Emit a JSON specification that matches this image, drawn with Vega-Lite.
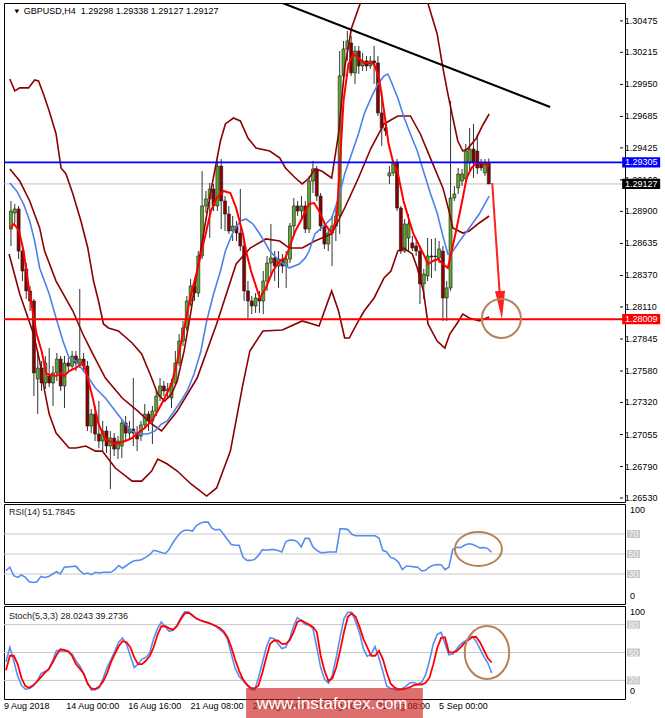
{
"$schema": "https://vega.github.io/schema/vega-lite/v6.json",
"padding": {"left": 2, "top": 2, "right": 0, "bottom": 0},
"background": "#ffffff",
"spacing": 2,
"bounds": "flush",
"resolve": {"scale": {"x": "independent", "y": "independent"}},
"config": {"view": {"stroke": "#000000", "strokeWidth": 1}, "font": "Liberation Sans"},
"datasets": {
"candles": [
{"i":0,"o":1.28754,"h":1.28986,"l":1.28614,"c":1.28903},{"i":1,"o":1.28887,"h":1.28961,"l":1.28804,"c":1.2892},{"i":2,"o":1.2892,"h":1.28945,"l":1.28506,"c":1.28572},{"i":3,"o":1.28572,"h":1.28614,"l":1.28324,"c":1.28407},{"i":4,"o":1.28424,"h":1.28473,"l":1.28176,"c":1.28242},{"i":5,"o":1.28242,"h":1.28283,"l":1.28076,"c":1.28159},{"i":6,"o":1.28159,"h":1.28176,"l":1.27373,"c":1.27564},{"i":7,"o":1.27514,"h":1.27746,"l":1.27224,"c":1.27605},{"i":8,"o":1.27605,"h":1.27663,"l":1.27415,"c":1.27481},{"i":9,"o":1.27481,"h":1.27704,"l":1.27431,"c":1.27646},
{"i":10,"o":1.27539,"h":1.2777,"l":1.27448,"c":1.27481},{"i":11,"o":1.27481,"h":1.27621,"l":1.27291,"c":1.27564},{"i":12,"o":1.27564,"h":1.27729,"l":1.27497,"c":1.27679},{"i":13,"o":1.27679,"h":1.27704,"l":1.27415,"c":1.27456},{"i":14,"o":1.27456,"h":1.27704,"l":1.27274,"c":1.27646},{"i":15,"o":1.27646,"h":1.27688,"l":1.27564,"c":1.27621},{"i":16,"o":1.27621,"h":1.27746,"l":1.27597,"c":1.27704},{"i":17,"o":1.27704,"h":1.27746,"l":1.2758,"c":1.27646},{"i":18,"o":1.27646,"h":1.28258,"l":1.27605,"c":1.27679},{"i":19,"o":1.27679,"h":1.27729,"l":1.2758,"c":1.27621},
{"i":20,"o":1.27621,"h":1.27663,"l":1.27084,"c":1.27125},{"i":21,"o":1.27125,"h":1.27266,"l":1.27067,"c":1.27224},{"i":22,"o":1.27224,"h":1.27291,"l":1.27001,"c":1.27059},{"i":23,"o":1.27059,"h":1.27332,"l":1.26943,"c":1.27001},{"i":24,"o":1.27001,"h":1.27167,"l":1.26918,"c":1.27084},{"i":25,"o":1.27084,"h":1.27125,"l":1.26902,"c":1.2696},{"i":26,"o":1.2696,"h":1.27084,"l":1.26604,"c":1.27026},{"i":27,"o":1.27026,"h":1.27067,"l":1.26877,"c":1.26935},{"i":28,"o":1.26935,"h":1.27043,"l":1.26852,"c":1.27001},{"i":29,"o":1.2696,"h":1.27183,"l":1.26861,"c":1.2715},
{"i":30,"o":1.2715,"h":1.27208,"l":1.27001,"c":1.27067},{"i":31,"o":1.27067,"h":1.27167,"l":1.27018,"c":1.271},{"i":32,"o":1.271,"h":1.27522,"l":1.2696,"c":1.27067},{"i":33,"o":1.27067,"h":1.27125,"l":1.26918,"c":1.27018},{"i":34,"o":1.27043,"h":1.27167,"l":1.27001,"c":1.27134},{"i":35,"o":1.27134,"h":1.27307,"l":1.271,"c":1.27224},{"i":36,"o":1.27224,"h":1.27249,"l":1.27084,"c":1.27167},{"i":37,"o":1.27167,"h":1.27291,"l":1.26976,"c":1.27249},{"i":38,"o":1.27249,"h":1.27415,"l":1.27208,"c":1.27373},{"i":39,"o":1.27373,"h":1.27522,"l":1.27332,"c":1.27456},
{"i":40,"o":1.27456,"h":1.27497,"l":1.27373,"c":1.27415},{"i":41,"o":1.27415,"h":1.27481,"l":1.27349,"c":1.27431},{"i":42,"o":1.27357,"h":1.27514,"l":1.27274,"c":1.27481},{"i":43,"o":1.27481,"h":1.27746,"l":1.27456,"c":1.27646},{"i":44,"o":1.27646,"h":1.27886,"l":1.27621,"c":1.27828},{"i":45,"o":1.27828,"h":1.27994,"l":1.27787,"c":1.27936},{"i":46,"o":1.27936,"h":1.282,"l":1.27911,"c":1.28159},{"i":47,"o":1.28159,"h":1.28341,"l":1.28118,"c":1.28283},{"i":48,"o":1.28283,"h":1.28324,"l":1.28159,"c":1.28225},{"i":49,"o":1.28225,"h":1.28572,"l":1.28192,"c":1.28531},
{"i":50,"o":1.28531,"h":1.29234,"l":1.28506,"c":1.28945},{"i":51,"o":1.28945,"h":1.29069,"l":1.28887,"c":1.29003},{"i":52,"o":1.29003,"h":1.29135,"l":1.2868,"c":1.29085},{"i":53,"o":1.29085,"h":1.29127,"l":1.28903,"c":1.28945},{"i":54,"o":1.28945,"h":1.29317,"l":1.28903,"c":1.29275},{"i":55,"o":1.29275,"h":1.29333,"l":1.28754,"c":1.28986},{"i":56,"o":1.28986,"h":1.29027,"l":1.28738,"c":1.28878},{"i":57,"o":1.28878,"h":1.28945,"l":1.28713,"c":1.28738},{"i":58,"o":1.28738,"h":1.28862,"l":1.28655,"c":1.28779},{"i":59,"o":1.28779,"h":1.28821,"l":1.28655,"c":1.28721},
{"i":60,"o":1.28721,"h":1.29085,"l":1.28572,"c":1.28614},{"i":61,"o":1.28614,"h":1.28655,"l":1.28159,"c":1.28242},{"i":62,"o":1.28242,"h":1.28324,"l":1.28018,"c":1.28159},{"i":63,"o":1.28159,"h":1.282,"l":1.28051,"c":1.28118},{"i":64,"o":1.28118,"h":1.28225,"l":1.2806,"c":1.28184},{"i":65,"o":1.28184,"h":1.28242,"l":1.2806,"c":1.28159},{"i":66,"o":1.28159,"h":1.28407,"l":1.28051,"c":1.28324},{"i":67,"o":1.28324,"h":1.28531,"l":1.28242,"c":1.28473},{"i":68,"o":1.28473,"h":1.28796,"l":1.28366,"c":1.28515},{"i":69,"o":1.28515,"h":1.28572,"l":1.28324,"c":1.28448},
{"i":70,"o":1.28448,"h":1.28572,"l":1.28267,"c":1.28506},{"i":71,"o":1.28506,"h":1.28548,"l":1.2839,"c":1.28448},{"i":72,"o":1.28448,"h":1.28572,"l":1.28267,"c":1.28506},{"i":73,"o":1.28506,"h":1.28804,"l":1.28473,"c":1.28779},{"i":74,"o":1.28779,"h":1.29011,"l":1.28697,"c":1.28945},{"i":75,"o":1.28945,"h":1.28986,"l":1.28862,"c":1.28903},{"i":76,"o":1.28903,"h":1.29027,"l":1.28837,"c":1.28945},{"i":77,"o":1.28945,"h":1.28986,"l":1.28721,"c":1.28754},{"i":78,"o":1.28754,"h":1.29193,"l":1.28721,"c":1.29151},{"i":79,"o":1.29151,"h":1.29317,"l":1.29052,"c":1.29251},
{"i":80,"o":1.29251,"h":1.29275,"l":1.28986,"c":1.29027},{"i":81,"o":1.29027,"h":1.29052,"l":1.28738,"c":1.28779},{"i":82,"o":1.28779,"h":1.28821,"l":1.28589,"c":1.2863},{"i":83,"o":1.2863,"h":1.28754,"l":1.28572,"c":1.28721},{"i":84,"o":1.28721,"h":1.28862,"l":1.28448,"c":1.28779},{"i":85,"o":1.28779,"h":1.28945,"l":1.28655,"c":1.28862},{"i":86,"o":1.28862,"h":1.30226,"l":1.28713,"c":1.3002},{"i":87,"o":1.3002,"h":1.30309,"l":1.29978,"c":1.30243},{"i":88,"o":1.30243,"h":1.30392,"l":1.30144,"c":1.30309},{"i":89,"o":1.30293,"h":1.30351,"l":1.3002,"c":1.30045},
{"i":90,"o":1.30045,"h":1.30268,"l":1.29954,"c":1.30226},{"i":91,"o":1.30226,"h":1.30268,"l":1.30036,"c":1.30102},{"i":92,"o":1.30102,"h":1.3021,"l":1.30061,"c":1.30144},{"i":93,"o":1.30144,"h":1.30185,"l":1.30061,"c":1.30102},{"i":94,"o":1.30102,"h":1.30185,"l":1.30078,"c":1.30144},{"i":95,"o":1.30144,"h":1.30268,"l":1.29954,"c":1.30127},{"i":96,"o":1.30127,"h":1.30185,"l":1.29689,"c":1.29714},{"i":97,"o":1.29714,"h":1.29896,"l":1.29441,"c":1.2959},{"i":98,"o":1.2959,"h":1.29631,"l":1.29524,"c":1.29565},{"i":99,"o":1.29193,"h":1.29275,"l":1.29127,"c":1.29218},
{"i":100,"o":1.29218,"h":1.29317,"l":1.29193,"c":1.293},{"i":101,"o":1.293,"h":1.29333,"l":1.28903,"c":1.28928},{"i":102,"o":1.28928,"h":1.28945,"l":1.28548,"c":1.28572},{"i":103,"o":1.28572,"h":1.28837,"l":1.28556,"c":1.28796},{"i":104,"o":1.2868,"h":1.28878,"l":1.28572,"c":1.28796},{"i":105,"o":1.28639,"h":1.28697,"l":1.28572,"c":1.28597},{"i":106,"o":1.28614,"h":1.28655,"l":1.28531,"c":1.28572},{"i":107,"o":1.28572,"h":1.28614,"l":1.28134,"c":1.283},{"i":108,"o":1.283,"h":1.28424,"l":1.28176,"c":1.28382},{"i":109,"o":1.28366,"h":1.2868,"l":1.28324,"c":1.28531},
{"i":110,"o":1.28531,"h":1.28672,"l":1.28349,"c":1.28523},{"i":111,"o":1.28531,"h":1.2868,"l":1.28407,"c":1.28525},{"i":112,"o":1.28515,"h":1.28655,"l":1.28473,"c":1.28589},{"i":113,"o":1.28572,"h":1.28614,"l":1.27994,"c":1.28184},{"i":114,"o":1.28184,"h":1.28324,"l":1.27994,"c":1.28267},{"i":115,"o":1.28267,"h":1.29813,"l":1.28242,"c":1.29011},{"i":116,"o":1.29011,"h":1.2911,"l":1.28986,"c":1.29044},{"i":117,"o":1.29094,"h":1.29259,"l":1.29044,"c":1.29209},{"i":118,"o":1.29151,"h":1.29251,"l":1.2911,"c":1.29209},{"i":119,"o":1.29168,"h":1.29457,"l":1.29151,"c":1.29399},
{"i":120,"o":1.293,"h":1.2959,"l":1.29234,"c":1.29416},{"i":121,"o":1.29416,"h":1.29623,"l":1.29176,"c":1.293},{"i":122,"o":1.29399,"h":1.2954,"l":1.29209,"c":1.29259},{"i":123,"o":1.29292,"h":1.29333,"l":1.29234,"c":1.29259},{"i":124,"o":1.29218,"h":1.29333,"l":1.29193,"c":1.293},{"i":125,"o":1.29298,"h":1.29338,"l":1.29127,"c":1.29127}
],
"bb": [
{"s":"u","i":-0.3,"p":1.29995},{"s":"u","i":1.0,"p":1.29896},{"s":"u","i":2.3,"p":1.29921},{"s":"u","i":4.6,"p":1.29921},{"s":"u","i":6.2,"p":1.29987},{"s":"u","i":7.2,"p":1.29978},{"s":"u","i":8.5,"p":1.29871},{"s":"u","i":10.0,"p":1.2973},{"s":"u","i":11.8,"p":1.2954},{"s":"u","i":13.1,"p":1.29259},{"s":"u","i":14.4,"p":1.29209},{"s":"u","i":16.2,"p":1.29044},{"s":"u","i":18.3,"p":1.28821},{"s":"u","i":20.1,"p":1.28597},{"s":"u","i":21.6,"p":1.28324},{"s":"u","i":22.9,"p":1.28159},{"s":"u","i":24.2,"p":1.27969},{"s":"u","i":25.5,"p":1.27936},{"s":"u","i":28.1,"p":1.27911},{"s":"u","i":31.7,"p":1.27812},{"s":"u","i":34.2,"p":1.27721},{"s":"u","i":36.8,"p":1.27522},{"s":"u","i":38.4,"p":1.2739},{"s":"u","i":40.2,"p":1.27332},{"s":"u","i":42.0,"p":1.2739},{"s":"u","i":43.5,"p":1.27497},{"s":"u","i":45.3,"p":1.27746},{"s":"u","i":47.1,"p":1.28076},{"s":"u","i":48.7,"p":1.28407},{"s":"u","i":50.5,"p":1.28738},{"s":"u","i":52.3,"p":1.29069},{"s":"u","i":53.8,"p":1.29317},{"s":"u","i":54.8,"p":1.29482},{"s":"u","i":56.1,"p":1.29623},{"s":"u","i":58.2,"p":1.29672},{"s":"u","i":60.0,"p":1.29648},{"s":"u","i":62.0,"p":1.29507},{"s":"u","i":64.1,"p":1.29424},{"s":"u","i":67.7,"p":1.29399},{"s":"u","i":70.3,"p":1.29342},{"s":"u","i":71.8,"p":1.29259},{"s":"u","i":74.4,"p":1.29176},{"s":"u","i":76.2,"p":1.29127},{"s":"u","i":78.0,"p":1.29176},{"s":"u","i":79.5,"p":1.29251},{"s":"u","i":81.3,"p":1.29234},{"s":"u","i":83.9,"p":1.29176},{"s":"u","i":85.7,"p":1.2954},{"s":"u","i":87.3,"p":1.30086},{"s":"u","i":89.1,"p":1.30417},{"s":"u","i":91.6,"p":1.3064},{"s":"u","i":95.5,"p":1.3093},{"s":"u","i":99.4,"p":1.30971},{"s":"u","i":103.2,"p":1.30888},{"s":"u","i":107.1,"p":1.30723},{"s":"u","i":108.9,"p":1.3064},{"s":"u","i":111.5,"p":1.30367},{"s":"u","i":113.0,"p":1.30086},{"s":"u","i":114.3,"p":1.29871},{"s":"u","i":115.6,"p":1.29672},{"s":"u","i":116.9,"p":1.29482},{"s":"u","i":118.2,"p":1.29399},{"s":"u","i":119.4,"p":1.29416},{"s":"u","i":121.8,"p":1.29507},{"s":"u","i":123.3,"p":1.29606},{"s":"u","i":125.1,"p":1.29705},
{"s":"m","i":-0.3,"p":1.29251},{"s":"m","i":2.3,"p":1.29151},{"s":"m","i":4.9,"p":1.28986},{"s":"m","i":7.5,"p":1.28763},{"s":"m","i":8.8,"p":1.28572},{"s":"m","i":11.8,"p":1.28324},{"s":"m","i":16.2,"p":1.28076},{"s":"m","i":18.8,"p":1.27886},{"s":"m","i":21.4,"p":1.27721},{"s":"m","i":24.7,"p":1.27522},{"s":"m","i":29.1,"p":1.27357},{"s":"m","i":33.2,"p":1.27249},{"s":"m","i":36.8,"p":1.27142},{"s":"m","i":39.4,"p":1.27084},{"s":"m","i":43.5,"p":1.27249},{"s":"m","i":48.7,"p":1.27522},{"s":"m","i":53.8,"p":1.27969},{"s":"m","i":58.9,"p":1.28465},{"s":"m","i":62.6,"p":1.28597},{"s":"m","i":66.7,"p":1.28672},{"s":"m","i":70.3,"p":1.28655},{"s":"m","i":72.8,"p":1.28597},{"s":"m","i":76.2,"p":1.28597},{"s":"m","i":79.5,"p":1.28655},{"s":"m","i":83.9,"p":1.28713},{"s":"m","i":87.3,"p":1.28928},{"s":"m","i":90.9,"p":1.29176},{"s":"m","i":94.2,"p":1.29424},{"s":"m","i":97.6,"p":1.29623},{"s":"m","i":101.2,"p":1.29689},{"s":"m","i":104.5,"p":1.29689},{"s":"m","i":107.1,"p":1.2954},{"s":"m","i":109.7,"p":1.29342},{"s":"m","i":113.0,"p":1.29094},{"s":"m","i":114.8,"p":1.28878},{"s":"m","i":115.6,"p":1.28763},{"s":"m","i":118.2,"p":1.28721},{"s":"m","i":119.9,"p":1.28738},{"s":"m","i":122.5,"p":1.28804},{"s":"m","i":125.1,"p":1.28862},
{"s":"l","i":-0.5,"p":1.28548},{"s":"l","i":2.3,"p":1.28217},{"s":"l","i":5.9,"p":1.27886},{"s":"l","i":7.5,"p":1.27663},{"s":"l","i":8.8,"p":1.27415},{"s":"l","i":10.0,"p":1.27224},{"s":"l","i":11.8,"p":1.27067},{"s":"l","i":15.2,"p":1.26943},{"s":"l","i":17.0,"p":1.26943},{"s":"l","i":19.6,"p":1.2696},{"s":"l","i":22.1,"p":1.26918},{"s":"l","i":23.9,"p":1.26918},{"s":"l","i":27.3,"p":1.26778},{"s":"l","i":31.7,"p":1.2667},{"s":"l","i":34.2,"p":1.2667},{"s":"l","i":36.8,"p":1.26753},{"s":"l","i":38.4,"p":1.26852},{"s":"l","i":40.9,"p":1.26811},{"s":"l","i":43.5,"p":1.26753},{"s":"l","i":47.1,"p":1.26646},{"s":"l","i":51.2,"p":1.26546},{"s":"l","i":53.8,"p":1.26613},{"s":"l","i":57.4,"p":1.26918},{"s":"l","i":60.7,"p":1.27473},{"s":"l","i":62.5,"p":1.27746},{"s":"l","i":65.9,"p":1.27911},{"s":"l","i":71.0,"p":1.27919},{"s":"l","i":76.2,"p":1.27994},{"s":"l","i":80.6,"p":1.27953},{"s":"l","i":83.9,"p":1.28242},{"s":"l","i":85.7,"p":1.28076},{"s":"l","i":87.3,"p":1.27853},{"s":"l","i":88.5,"p":1.27853},{"s":"l","i":90.9,"p":1.27994},{"s":"l","i":92.4,"p":1.28076},{"s":"l","i":95.0,"p":1.28184},{"s":"l","i":97.6,"p":1.28349},{"s":"l","i":99.4,"p":1.28407},{"s":"l","i":101.2,"p":1.28572},{"s":"l","i":102.7,"p":1.28597},{"s":"l","i":105.0,"p":1.28548},{"s":"l","i":106.3,"p":1.28432},{"s":"l","i":107.9,"p":1.28242},{"s":"l","i":109.1,"p":1.27969},{"s":"l","i":111.5,"p":1.27828},{"s":"l","i":113.5,"p":1.2777},{"s":"l","i":114.8,"p":1.27886},{"s":"l","i":116.6,"p":1.27969},{"s":"l","i":118.2,"p":1.28051},{"s":"l","i":119.9,"p":1.28018},{"s":"l","i":122.5,"p":1.27994},{"s":"l","i":125.1,"p":1.28027}
],
"fast": [
{"i":-0.3,"p":1.28763},{"i":0.8,"p":1.28796},{"i":2.1,"p":1.28738},{"i":3.3,"p":1.28572},{"i":4.9,"p":1.28217},{"i":6.7,"p":1.27886},{"i":8.0,"p":1.27746},{"i":9.3,"p":1.27555},{"i":11.8,"p":1.27539},{"i":13.1,"p":1.27564},{"i":13.9,"p":1.27539},{"i":15.2,"p":1.2758},{"i":17.0,"p":1.27605},{"i":18.8,"p":1.27646},{"i":19.6,"p":1.2758},{"i":21.4,"p":1.27357},{"i":22.9,"p":1.27142},{"i":24.7,"p":1.27018},{"i":27.3,"p":1.26976},{"i":29.9,"p":1.27001},{"i":31.7,"p":1.27026},{"i":33.2,"p":1.27067},{"i":35.0,"p":1.27109},{"i":36.8,"p":1.27167},{"i":38.4,"p":1.27249},{"i":40.2,"p":1.27357},{"i":42.0,"p":1.27473},{"i":43.5,"p":1.27663},{"i":45.3,"p":1.27936},{"i":47.1,"p":1.28217},{"i":48.7,"p":1.28407},{"i":50.5,"p":1.28655},{"i":52.3,"p":1.28903},{"i":53.8,"p":1.29011},{"i":55.6,"p":1.29069},{"i":57.4,"p":1.29052},{"i":58.9,"p":1.28928},{"i":60.7,"p":1.28713},{"i":61.5,"p":1.28572},{"i":62.8,"p":1.28407},{"i":65.1,"p":1.28184},{"i":66.7,"p":1.28267},{"i":68.5,"p":1.28407},{"i":70.3,"p":1.2849},{"i":71.8,"p":1.28515},{"i":72.8,"p":1.28597},{"i":74.4,"p":1.28738},{"i":76.2,"p":1.28845},{"i":78.0,"p":1.28961},{"i":79.3,"p":1.28969},{"i":80.6,"p":1.28903},{"i":82.1,"p":1.28796},{"i":83.9,"p":1.28721},{"i":85.2,"p":1.28845},{"i":86.0,"p":1.29259},{"i":87.0,"p":1.29813},{"i":88.3,"p":1.30119},{"i":89.6,"p":1.30202},{"i":90.9,"p":1.30169},{"i":92.4,"p":1.30127},{"i":93.7,"p":1.30127},{"i":95.0,"p":1.30119},{"i":96.3,"p":1.30003},{"i":97.6,"p":1.2973},{"i":98.8,"p":1.29457},{"i":99.9,"p":1.29317},{"i":101.2,"p":1.29218},{"i":102.7,"p":1.28986},{"i":104.0,"p":1.28845},{"i":105.3,"p":1.28713},{"i":106.6,"p":1.2863},{"i":107.9,"p":1.28548},{"i":109.1,"p":1.28465},{"i":110.4,"p":1.2849},{"i":111.7,"p":1.28506},{"i":113.0,"p":1.28465},{"i":114.3,"p":1.28432},{"i":115.3,"p":1.28572},{"i":116.6,"p":1.28763},{"i":118.2,"p":1.29011},{"i":119.2,"p":1.29176},{"i":120.5,"p":1.29259},{"i":121.8,"p":1.293},{"i":123.3,"p":1.293},{"i":125.1,"p":1.29275}
],
"slow": [
{"i":-0.3,"p":1.29135},{"i":1.5,"p":1.29069},{"i":3.3,"p":1.28961},{"i":4.9,"p":1.28821},{"i":6.2,"p":1.28655},{"i":7.5,"p":1.28432},{"i":10.0,"p":1.28217},{"i":11.8,"p":1.28018},{"i":13.6,"p":1.27828},{"i":15.2,"p":1.27688},{"i":17.0,"p":1.27663},{"i":19.6,"p":1.27555},{"i":22.1,"p":1.2744},{"i":24.7,"p":1.27357},{"i":27.3,"p":1.27249},{"i":29.9,"p":1.27142},{"i":31.7,"p":1.27084},{"i":33.2,"p":1.27059},{"i":35.8,"p":1.27059},{"i":37.6,"p":1.27084},{"i":39.4,"p":1.27142},{"i":40.9,"p":1.27167},{"i":42.7,"p":1.27249},{"i":44.5,"p":1.27332},{"i":46.1,"p":1.27415},{"i":47.9,"p":1.27555},{"i":49.7,"p":1.27746},{"i":51.2,"p":1.27994},{"i":53.0,"p":1.28217},{"i":54.8,"p":1.28407},{"i":56.1,"p":1.28572},{"i":58.2,"p":1.28738},{"i":60.0,"p":1.28821},{"i":61.5,"p":1.28837},{"i":63.3,"p":1.28796},{"i":65.1,"p":1.28713},{"i":66.7,"p":1.2863},{"i":67.7,"p":1.28572},{"i":70.3,"p":1.2849},{"i":72.8,"p":1.28432},{"i":75.4,"p":1.28465},{"i":77.0,"p":1.28515},{"i":78.0,"p":1.28572},{"i":79.5,"p":1.28713},{"i":81.3,"p":1.28763},{"i":83.9,"p":1.28845},{"i":85.7,"p":1.29011},{"i":87.3,"p":1.29209},{"i":89.1,"p":1.29375},{"i":90.9,"p":1.2954},{"i":92.4,"p":1.29705},{"i":94.2,"p":1.29838},{"i":96.0,"p":1.29954},{"i":97.6,"p":1.3002},{"i":98.6,"p":1.30036},{"i":99.4,"p":1.29978},{"i":101.2,"p":1.29838},{"i":102.7,"p":1.29689},{"i":104.5,"p":1.2954},{"i":106.3,"p":1.29399},{"i":107.9,"p":1.29234},{"i":109.7,"p":1.29052},{"i":111.5,"p":1.28887},{"i":113.0,"p":1.28697},{"i":114.3,"p":1.28548},{"i":115.6,"p":1.28572},{"i":117.4,"p":1.28655},{"i":119.9,"p":1.28763},{"i":122.5,"p":1.28878},{"i":125.1,"p":1.29027}
],
"osc": [
{"i":0,"r":33.4,"k":40,"d":30.9},{"i":1,"r":36.8,"k":55.6,"d":46.5},{"i":2,"r":28.3,"k":41,"d":46.5},{"i":3,"r":26.6,"k":24.7,"d":37.5},{"i":4,"r":29,"k":14.5,"d":22.2},{"i":5,"r":26.6,"k":10.5,"d":13.8},{"i":6,"r":22.2,"k":11.3,"d":12},{"i":7,"r":21.5,"k":13.8,"d":14.9},{"i":8,"r":22.2,"k":19.3,"d":18.6},{"i":9,"r":27.6,"k":27.3,"d":23.6},
{"i":10,"r":26.6,"k":29.5,"d":28.4},{"i":11,"r":27.6,"k":32,"d":32},{"i":12,"r":30,"k":41,"d":39.3},{"i":13,"r":32.4,"k":52,"d":47.3},{"i":14,"r":30,"k":52,"d":53.5},{"i":15,"r":36.8,"k":51.3,"d":52.7},{"i":16,"r":37.1,"k":51.3,"d":51.3},{"i":17,"r":37.5,"k":48.4,"d":46.5},{"i":18,"r":37.8,"k":41,"d":37.5},{"i":19,"r":33.4,"k":35.6,"d":32.7},
{"i":20,"r":30,"k":27.3,"d":27.3},{"i":21,"r":31,"k":17.5,"d":16.4},{"i":22,"r":29.3,"k":9.5,"d":11.3},{"i":23,"r":31.7,"k":10.2,"d":10.5},{"i":24,"r":31,"k":12,"d":13.5},{"i":25,"r":31.7,"k":22.2,"d":18.9},{"i":26,"r":31.7,"k":33.8,"d":27.6},{"i":27,"r":31.7,"k":42.2,"d":39.3},{"i":28,"r":34.4,"k":51.3,"d":48.4},{"i":29,"r":38.5,"k":61.1,"d":56.7},
{"i":30,"r":35.8,"k":65.5,"d":62.2},{"i":31,"r":38.5,"k":59.3,"d":61.1},{"i":32,"r":41.2,"k":46.5,"d":55.6},{"i":33,"r":43.2,"k":33.8,"d":44.7},{"i":34,"r":43.6,"k":37.5,"d":37.5},{"i":35,"r":44.6,"k":42.9,"d":37.5},{"i":36,"r":46.9,"k":44.7,"d":41.1},{"i":37,"r":49.3,"k":49.5,"d":46.2},{"i":38,"r":53.7,"k":64.7,"d":55.6},{"i":39,"r":52.7,"k":75.6,"d":69.1},
{"i":40,"r":51.4,"k":82.9,"d":78.2},{"i":41,"r":50.3,"k":77.5,"d":78.2},{"i":42,"r":54.7,"k":72.7,"d":76},{"i":43,"r":61.5,"k":73.8,"d":74.5},{"i":44,"r":67,"k":79.3,"d":78.2},{"i":45,"r":71.7,"k":87.6,"d":85.8},{"i":46,"r":73.7,"k":93.8,"d":92},{"i":47,"r":73.7,"k":93.5,"d":92.7},{"i":48,"r":73,"k":89.1,"d":90.2},{"i":49,"r":78.5,"k":86.5,"d":86.5},
{"i":50,"r":80.8,"k":84.7,"d":84.7},{"i":51,"r":81.9,"k":83.3,"d":83.3},{"i":52,"r":81.9,"k":81.8,"d":82.2},{"i":53,"r":75.8,"k":80.4,"d":80.4},{"i":54,"r":74.1,"k":78.2,"d":78.5},{"i":55,"r":74.7,"k":74.5,"d":76.4},{"i":56,"r":69.7,"k":71.3,"d":72.7},{"i":57,"r":64.6,"k":64.7,"d":66.5},{"i":58,"r":59.5,"k":48.4,"d":55.6},{"i":59,"r":58.8,"k":32.7,"d":42.2},
{"i":60,"r":58.8,"k":24.4,"d":30.2},{"i":61,"r":46.9,"k":20,"d":21.1},{"i":62,"r":43.6,"k":14.9,"d":15.6},{"i":63,"r":43.6,"k":10.2,"d":12},{"i":64,"r":44.6,"k":9.8,"d":11.3},{"i":65,"r":48.6,"k":22.9,"d":14.5},{"i":66,"r":54.4,"k":39.3,"d":28.4},{"i":67,"r":53.7,"k":55.6,"d":44.7},{"i":68,"r":54.4,"k":65.8,"d":59.3},{"i":69,"r":54.4,"k":64.7,"d":62.9},
{"i":70,"r":53.4,"k":59.3,"d":62.9},{"i":71,"r":52,"k":54.2,"d":59.3},{"i":72,"r":62.2,"k":55.6,"d":59.3},{"i":73,"r":63.9,"k":64.7,"d":62.9},{"i":74,"r":63.9,"k":77.8,"d":71.6},{"i":75,"r":62.2,"k":87.6,"d":82.9},{"i":76,"r":57.1,"k":84,"d":84.7},{"i":77,"r":65.6,"k":80.4,"d":82.2},{"i":78,"r":65.6,"k":79.3,"d":80},{"i":79,"r":57.1,"k":75.6,"d":77.5},
{"i":80,"r":53.7,"k":55.6,"d":72},{"i":81,"r":51.4,"k":33.8,"d":46.5},{"i":82,"r":51.4,"k":21.1,"d":30.2},{"i":83,"r":52,"k":17.1,"d":19.3},{"i":84,"r":52,"k":25.8,"d":22.2},{"i":85,"r":52,"k":44.7,"d":33.8},{"i":86,"r":75.1,"k":66.5,"d":52},{"i":87,"r":75.1,"k":86.5,"d":72},{"i":88,"r":74.4,"k":93.1,"d":88.4},{"i":89,"r":69.7,"k":93.1,"d":92},
{"i":90,"r":68.3,"k":82.9,"d":88.4},{"i":91,"r":68.3,"k":71.3,"d":77.5},{"i":92,"r":68.3,"k":53.8,"d":64.7},{"i":93,"r":68.3,"k":45.8,"d":55.6},{"i":94,"r":68.3,"k":48.4,"d":46.5},{"i":95,"r":68.3,"k":56.4,"d":46.5},{"i":96,"r":66,"k":44,"d":52},{"i":97,"r":53.7,"k":29.5,"d":42.9},{"i":98,"r":52,"k":13.8,"d":28.4},{"i":99,"r":46.6,"k":11.3,"d":16.4},
{"i":100,"r":45.3,"k":10.2,"d":12.4},{"i":101,"r":41.9,"k":9.5,"d":10.5},{"i":102,"r":34.4,"k":11.3,"d":10.2},{"i":103,"r":37.8,"k":13.8,"d":11.3},{"i":104,"r":37.8,"k":17.5,"d":12.7},{"i":105,"r":37.1,"k":17.8,"d":14.9},{"i":106,"r":36.8,"k":16,"d":15.6},{"i":107,"r":33,"k":18.2,"d":15.6},{"i":108,"r":33.7,"k":25.8,"d":17.5},{"i":109,"r":37.1,"k":41.1,"d":22.9},
{"i":110,"r":38.8,"k":59.3,"d":37.5},{"i":111,"r":39.5,"k":69.5,"d":54.9},{"i":112,"r":39.2,"k":71.6,"d":65.8},{"i":113,"r":34.4,"k":59.3,"d":66.5},{"i":114,"r":36.8,"k":47.6,"d":50.2},{"i":115,"r":54.7,"k":48.4,"d":50.2},{"i":116,"r":56.8,"k":53.8,"d":51.3},{"i":117,"r":56.4,"k":58.9,"d":55.6},{"i":118,"r":58.8,"k":61.8,"d":60},{"i":119,"r":60.2,"k":64.4,"d":63.3},
{"i":120,"r":59.8,"k":67.3,"d":66.5},{"i":121,"r":58.1,"k":62.2,"d":66.9},{"i":122,"r":56.1,"k":53.8,"d":61.1},{"i":123,"r":56.4,"k":45.5,"d":52.7},{"i":124,"r":55.4,"k":38.9,"d":44},{"i":125,"r":51.7845,"k":28.0243,"d":39.2736}
],
"levels": [{"v":1.2653},{"v":1.2679},{"v":1.27055},{"v":1.2732},{"v":1.2758},{"v":1.27845},{"v":1.2811},{"v":1.2837},{"v":1.28635},{"v":1.289},{"v":1.2916},{"v":1.29425},{"v":1.29685},{"v":1.2995},{"v":1.30215},{"v":1.30475}],
"dates": [{"i":0,"t":"9 Aug 2018"},{"i":16,"t":"14 Aug 00:00"},{"i":32,"t":"16 Aug 16:00"},{"i":48,"t":"21 Aug 08:00"},{"i":64,"t":"24 Aug 00:00"},{"i":80,"t":"28 Aug 16:00"},{"i":96,"t":"31 Aug 08:00"},{"i":112,"t":"5 Sep 00:00"}]
},
"vconcat": [
{
"width": 621, "height": 499,
"layer": [
{"data": {"values": [{}]}, "mark": {"type": "rule", "color": "#c0c0c0", "strokeWidth": 1},
 "encoding": {"y": {"datum": 1.29127, "type": "quantitative", "scale": {"domain": [1.26497, 1.30623], "nice": false, "zero": false}, "axis": null}}},
{"data": {"name": "candles"}, "mark": {"type": "rule", "color": "#333333", "strokeWidth": 1, "clip": true},
 "encoding": {
  "x": {"field": "i", "type": "quantitative", "scale": {"domain": [-0.515, 159.33], "nice": false, "zero": false},
   "axis": {"values": [8,16,24,32,40,48,56,64,72,80,88,96,104,112,120,128,136,144,152], "grid": true, "gridColor": "#c4c4c4", "gridDash": [3,3], "labels": false, "ticks": false, "domain": false, "title": null, "zindex": 0}},
  "y": {"field": "l", "type": "quantitative", "scale": {"domain": [1.26497, 1.30623], "nice": false, "zero": false},
   "axis": {"orient": "right", "values": [1.2653,1.2679,1.27055,1.2732,1.2758,1.27845,1.2811,1.2837,1.28635,1.289,1.2916,1.29425,1.29685,1.2995,1.30215,1.30475], "grid": true, "gridColor": "#c4c4c4", "gridDash": [3,3], "labels": false, "ticks": false, "domain": false, "title": null, "zindex": 0}},
  "y2": {"field": "h"}}},
{"data": {"name": "candles"}, "mark": {"type": "bar", "size": 3, "stroke": "#1a1a1a", "strokeWidth": 0.6, "clip": true},
 "encoding": {
  "x": {"field": "i", "type": "quantitative", "scale": {"domain": [-0.515, 159.33], "nice": false, "zero": false}, "axis": null},
  "y": {"field": "o", "type": "quantitative", "scale": {"domain": [1.26497, 1.30623], "nice": false, "zero": false}, "axis": null},
  "y2": {"field": "c"},
  "color": {"condition": {"test": "datum.c >= datum.o", "value": "#5ea82c"}, "value": "#8b0000"}}},
{"data": {"name": "bb"}, "mark": {"type": "line", "color": "#8b0000", "strokeWidth": 1.6, "clip": true},
 "encoding": {
  "x": {"field": "i", "type": "quantitative", "scale": {"domain": [-0.515, 159.33], "nice": false, "zero": false}, "axis": null},
  "y": {"field": "p", "type": "quantitative", "scale": {"domain": [1.26497, 1.30623], "nice": false, "zero": false}, "axis": null},
  "detail": {"field": "s", "type": "nominal"}}},
{"data": {"name": "slow"}, "mark": {"type": "line", "color": "#4f80e8", "strokeWidth": 1.6, "clip": true},
 "encoding": {
  "x": {"field": "i", "type": "quantitative", "scale": {"domain": [-0.515, 159.33], "nice": false, "zero": false}, "axis": null},
  "y": {"field": "p", "type": "quantitative", "scale": {"domain": [1.26497, 1.30623], "nice": false, "zero": false}, "axis": null}}},
{"data": {"name": "fast"}, "mark": {"type": "line", "color": "#ff0000", "strokeWidth": 2, "clip": true},
 "encoding": {
  "x": {"field": "i", "type": "quantitative", "scale": {"domain": [-0.515, 159.33], "nice": false, "zero": false}, "axis": null},
  "y": {"field": "p", "type": "quantitative", "scale": {"domain": [1.26497, 1.30623], "nice": false, "zero": false}, "axis": null}}},
{"data": {"values": [{}]}, "mark": {"type": "rule", "color": "#0000ff", "strokeWidth": 1.8},
 "encoding": {"y": {"datum": 1.29305, "type": "quantitative", "scale": {"domain": [1.26497, 1.30623], "nice": false, "zero": false}, "axis": null}}},
{"data": {"values": [{}]}, "mark": {"type": "rule", "color": "#ff0000", "strokeWidth": 2},
 "encoding": {"y": {"datum": 1.28009, "type": "quantitative", "scale": {"domain": [1.26497, 1.30623], "nice": false, "zero": false}, "axis": null}}},
{"data": {"values": [{}]}, "mark": {"type": "rule", "color": "#000000", "strokeWidth": 2, "clip": true},
 "encoding": {
  "x": {"datum": 71.04, "type": "quantitative", "scale": {"domain": [-0.515, 159.33], "nice": false, "zero": false}, "axis": null},
  "y": {"datum": 1.30623, "type": "quantitative", "scale": {"domain": [1.26497, 1.30623], "nice": false, "zero": false}, "axis": null},
  "x2": {"datum": 141.05}, "y2": {"datum": 1.29763}}},
{"data": {"values": [{}]}, "mark": {"type": "rule", "color": "#ff2020", "strokeWidth": 2},
 "encoding": {
  "x": {"datum": 125.9, "type": "quantitative", "scale": {"domain": [-0.515, 159.33], "nice": false, "zero": false}, "axis": null},
  "y": {"datum": 1.29135, "type": "quantitative", "scale": {"domain": [1.26497, 1.30623], "nice": false, "zero": false}, "axis": null},
  "x2": {"datum": 127.9}, "y2": {"datum": 1.282}}},
{"data": {"values": [{}]}, "mark": {"type": "point", "shape": "M-0.36,-1L0.36,-1L0,1Z", "filled": true, "color": "#ff2020", "opacity": 1, "size": 784, "angle": -4},
 "encoding": {
  "x": {"datum": 128.2, "type": "quantitative", "scale": {"domain": [-0.515, 159.33], "nice": false, "zero": false}, "axis": null},
  "y": {"datum": 1.28126, "type": "quantitative", "scale": {"domain": [1.26497, 1.30623], "nice": false, "zero": false}, "axis": null}}},
{"data": {"values": [{}]}, "mark": {"type": "point", "shape": "circle", "filled": false, "color": "#b5835a", "strokeWidth": 2, "opacity": 1, "size": 1521},
 "encoding": {
  "x": {"datum": 128.3, "type": "quantitative", "scale": {"domain": [-0.515, 159.33], "nice": false, "zero": false}, "axis": null},
  "y": {"datum": 1.28014, "type": "quantitative", "scale": {"domain": [1.26497, 1.30623], "nice": false, "zero": false}, "axis": null}}},
{"data": {"values": [{}]}, "mark": {"type": "point", "shape": "triangle-down", "filled": true, "color": "#000000", "opacity": 1, "size": 22},
 "encoding": {
  "x": {"datum": 1.54, "type": "quantitative", "scale": {"domain": [-0.515, 159.33], "nice": false, "zero": false}, "axis": null},
  "y": {"datum": 1.30553, "type": "quantitative", "scale": {"domain": [1.26497, 1.30623], "nice": false, "zero": false}, "axis": null}}},
{"data": {"values": [{}]}, "mark": {"type": "text", "text": "GBPUSD,H4\u00a0 1.29298 1.29338 1.29127 1.29127", "align": "left", "baseline": "middle", "font": "Liberation Sans", "fontSize": 9, "color": "#000000"},
 "encoding": {
  "x": {"datum": 3.35, "type": "quantitative", "scale": {"domain": [-0.515, 159.33], "nice": false, "zero": false}, "axis": null},
  "y": {"datum": 1.30557, "type": "quantitative", "scale": {"domain": [1.26497, 1.30623], "nice": false, "zero": false}, "axis": null}}},
{"data": {"name": "levels"}, "mark": {"type": "rule", "color": "#000000", "strokeWidth": 1, "clip": false},
 "encoding": {
  "x": {"datum": 159.33, "type": "quantitative", "scale": {"domain": [-0.515, 159.33], "nice": false, "zero": false}, "axis": null},
  "x2": {"datum": 160.1},
  "y": {"field": "v", "type": "quantitative", "scale": {"domain": [1.26497, 1.30623], "nice": false, "zero": false}, "axis": null}}},
{"data": {"name": "levels"}, "mark": {"type": "text", "align": "left", "baseline": "middle", "font": "Liberation Sans", "fontSize": 9, "color": "#000000", "clip": false},
 "encoding": {
  "x": {"datum": 160.6, "type": "quantitative", "scale": {"domain": [-0.515, 159.33], "nice": false, "zero": false}, "axis": null},
  "y": {"field": "v", "type": "quantitative", "scale": {"domain": [1.26497, 1.30623], "nice": false, "zero": false}, "axis": null},
  "text": {"field": "v", "type": "quantitative", "format": ".5f"}}},
{"data": {"values": [{"p": 1.29305, "k": "b"}, {"p": 1.29127, "k": "k"}, {"p": 1.28009, "k": "r"}]},
 "mark": {"type": "point", "shape": "M-1,-0.27L1,-0.27L1,0.27L-1,0.27Z", "filled": true, "opacity": 1, "size": 1444, "clip": false},
 "encoding": {
  "x": {"datum": 164.87, "type": "quantitative", "scale": {"domain": [-0.515, 159.33], "nice": false, "zero": false}, "axis": null},
  "y": {"field": "p", "type": "quantitative", "scale": {"domain": [1.26497, 1.30623], "nice": false, "zero": false}, "axis": null},
  "color": {"field": "k", "type": "nominal", "scale": {"domain": ["b", "k", "r"], "range": ["#0000ff", "#000000", "#ff0000"]}, "legend": null}}},
{"data": {"values": [{"p": 1.29305}, {"p": 1.29127}, {"p": 1.28009}]},
 "mark": {"type": "text", "align": "center", "baseline": "middle", "font": "Liberation Sans", "fontSize": 9, "color": "#ffffff", "clip": false},
 "encoding": {
  "x": {"datum": 164.87, "type": "quantitative", "scale": {"domain": [-0.515, 159.33], "nice": false, "zero": false}, "axis": null},
  "y": {"field": "p", "type": "quantitative", "scale": {"domain": [1.26497, 1.30623], "nice": false, "zero": false}, "axis": null},
  "text": {"field": "p", "type": "quantitative", "format": ".5f"}}}
]
},
{
"width": 621, "height": 100,
"layer": [
{"data": {"values": [{"v": 30}, {"v": 50}, {"v": 70}]}, "mark": {"type": "rule", "color": "#c8c8c8", "strokeWidth": 1},
 "encoding": {"y": {"field": "v", "type": "quantitative", "scale": {"domain": [0, 100], "nice": false, "zero": false}, "axis": null}}},
{"data": {"name": "osc"}, "mark": {"type": "line", "color": "#5a8cf0", "strokeWidth": 1.6, "clip": true},
 "encoding": {
  "x": {"field": "i", "type": "quantitative", "scale": {"domain": [-0.515, 159.33], "nice": false, "zero": false},
   "axis": {"values": [8,16,24,32,40,48,56,64,72,80,88,96,104,112,120,128,136,144,152], "grid": true, "gridColor": "#c4c4c4", "gridDash": [3,3], "labels": false, "ticks": false, "domain": false, "title": null, "zindex": 0}},
  "y": {"field": "r", "type": "quantitative", "scale": {"domain": [0, 100], "nice": false, "zero": false}, "axis": null}}},
{"data": {"values": [{"v": 30}, {"v": 50}, {"v": 70}]},
 "mark": {"type": "point", "shape": "M-1,-0.62L1,-0.62L1,0.62L-1,0.62Z", "filled": true, "color": "#c8c8c8", "opacity": 1, "size": 169, "clip": false},
 "encoding": {
  "x": {"datum": 161.5, "type": "quantitative", "scale": {"domain": [-0.515, 159.33], "nice": false, "zero": false}, "axis": null},
  "y": {"field": "v", "type": "quantitative", "scale": {"domain": [0, 100], "nice": false, "zero": false}, "axis": null}}},
{"data": {"values": [{"v": 30}, {"v": 50}, {"v": 70}]},
 "mark": {"type": "text", "align": "center", "baseline": "middle", "font": "Liberation Sans", "fontSize": 9, "color": "#f4f4f4", "clip": false},
 "encoding": {
  "x": {"datum": 161.5, "type": "quantitative", "scale": {"domain": [-0.515, 159.33], "nice": false, "zero": false}, "axis": null},
  "y": {"field": "v", "type": "quantitative", "scale": {"domain": [0, 100], "nice": false, "zero": false}, "axis": null},
  "text": {"field": "v", "type": "quantitative"}}},
{"data": {"values": [{}]}, "mark": {"type": "text", "text": "100", "align": "left", "baseline": "top", "dy": 2, "font": "Liberation Sans", "fontSize": 9, "color": "#000000", "clip": false},
 "encoding": {
  "x": {"datum": 160.6, "type": "quantitative", "scale": {"domain": [-0.515, 159.33], "nice": false, "zero": false}, "axis": null},
  "y": {"datum": 100, "type": "quantitative", "scale": {"domain": [0, 100], "nice": false, "zero": false}, "axis": null}}},
{"data": {"values": [{}]}, "mark": {"type": "text", "text": "0", "align": "left", "baseline": "bottom", "dy": -3, "font": "Liberation Sans", "fontSize": 9, "color": "#000000", "clip": false},
 "encoding": {
  "x": {"datum": 160.6, "type": "quantitative", "scale": {"domain": [-0.515, 159.33], "nice": false, "zero": false}, "axis": null},
  "y": {"datum": 0, "type": "quantitative", "scale": {"domain": [0, 100], "nice": false, "zero": false}, "axis": null}}},
{"data": {"values": [{}]}, "mark": {"type": "text", "text": "RSI(14) 51.7845", "align": "left", "baseline": "middle", "font": "Liberation Sans", "fontSize": 9, "color": "#202020"},
 "encoding": {
  "x": {"datum": 0.77, "type": "quantitative", "scale": {"domain": [-0.515, 159.33], "nice": false, "zero": false}, "axis": null},
  "y": {"datum": 92, "type": "quantitative", "scale": {"domain": [0, 100], "nice": false, "zero": false}, "axis": null}}},
{"data": {"values": [{}]}, "mark": {"type": "point", "shape": "M-1,0A1,0.72,0,0,1,1,0A1,0.72,0,0,1,-1,0Z", "filled": false, "color": "#b5835a", "strokeWidth": 2, "opacity": 1, "size": 2209, "clip": false},
 "encoding": {
  "x": {"datum": 121.6, "type": "quantitative", "scale": {"domain": [-0.515, 159.33], "nice": false, "zero": false}, "axis": null},
  "y": {"datum": 55, "type": "quantitative", "scale": {"domain": [0, 100], "nice": false, "zero": false}, "axis": null}}}
]
},
{
"width": 621, "height": 93,
"layer": [
{"data": {"values": [{"v": 20}, {"v": 50}, {"v": 80}]}, "mark": {"type": "rule", "color": "#c8c8c8", "strokeWidth": 1},
 "encoding": {"y": {"field": "v", "type": "quantitative", "scale": {"domain": [0, 100], "nice": false, "zero": false}, "axis": null}}},
{"data": {"name": "osc"}, "mark": {"type": "line", "color": "#5a8cf0", "strokeWidth": 1.6, "clip": true},
 "encoding": {
  "x": {"field": "i", "type": "quantitative", "scale": {"domain": [-0.515, 159.33], "nice": false, "zero": false},
   "axis": {"values": [8,16,24,32,40,48,56,64,72,80,88,96,104,112,120,128,136,144,152], "grid": true, "gridColor": "#c4c4c4", "gridDash": [3,3], "labels": false, "ticks": false, "domain": false, "title": null, "zindex": 0}},
  "y": {"field": "k", "type": "quantitative", "scale": {"domain": [0, 100], "nice": false, "zero": false}, "axis": null}}},
{"data": {"name": "osc"}, "mark": {"type": "line", "color": "#ff0000", "strokeWidth": 1.8, "clip": true},
 "encoding": {
  "x": {"field": "i", "type": "quantitative", "scale": {"domain": [-0.515, 159.33], "nice": false, "zero": false}, "axis": null},
  "y": {"field": "d", "type": "quantitative", "scale": {"domain": [0, 100], "nice": false, "zero": false}, "axis": null}}},
{"data": {"values": [{"v": 20}, {"v": 50}, {"v": 80}]},
 "mark": {"type": "point", "shape": "M-1,-0.62L1,-0.62L1,0.62L-1,0.62Z", "filled": true, "color": "#c8c8c8", "opacity": 1, "size": 169, "clip": false},
 "encoding": {
  "x": {"datum": 161.5, "type": "quantitative", "scale": {"domain": [-0.515, 159.33], "nice": false, "zero": false}, "axis": null},
  "y": {"field": "v", "type": "quantitative", "scale": {"domain": [0, 100], "nice": false, "zero": false}, "axis": null}}},
{"data": {"values": [{"v": 20}, {"v": 50}, {"v": 80}]},
 "mark": {"type": "text", "align": "center", "baseline": "middle", "font": "Liberation Sans", "fontSize": 9, "color": "#f4f4f4", "clip": false},
 "encoding": {
  "x": {"datum": 161.5, "type": "quantitative", "scale": {"domain": [-0.515, 159.33], "nice": false, "zero": false}, "axis": null},
  "y": {"field": "v", "type": "quantitative", "scale": {"domain": [0, 100], "nice": false, "zero": false}, "axis": null},
  "text": {"field": "v", "type": "quantitative"}}},
{"data": {"values": [{}]}, "mark": {"type": "text", "text": "100", "align": "left", "baseline": "top", "dy": 2, "font": "Liberation Sans", "fontSize": 9, "color": "#000000", "clip": false},
 "encoding": {
  "x": {"datum": 160.6, "type": "quantitative", "scale": {"domain": [-0.515, 159.33], "nice": false, "zero": false}, "axis": null},
  "y": {"datum": 100, "type": "quantitative", "scale": {"domain": [0, 100], "nice": false, "zero": false}, "axis": null}}},
{"data": {"values": [{}]}, "mark": {"type": "text", "text": "0", "align": "left", "baseline": "bottom", "dy": -3, "font": "Liberation Sans", "fontSize": 9, "color": "#000000", "clip": false},
 "encoding": {
  "x": {"datum": 160.6, "type": "quantitative", "scale": {"domain": [-0.515, 159.33], "nice": false, "zero": false}, "axis": null},
  "y": {"datum": 0, "type": "quantitative", "scale": {"domain": [0, 100], "nice": false, "zero": false}, "axis": null}}},
{"data": {"name": "dates"}, "mark": {"type": "text", "align": "left", "baseline": "middle", "dx": -2, "font": "Liberation Sans", "fontSize": 9, "color": "#000000", "clip": false},
 "encoding": {
  "x": {"field": "i", "type": "quantitative", "scale": {"domain": [-0.515, 159.33], "nice": false, "zero": false}, "axis": null},
  "y": {"datum": -7.5, "type": "quantitative", "scale": {"domain": [0, 100], "nice": false, "zero": false}, "axis": null},
  "text": {"field": "t", "type": "nominal"}}},
{"data": {"values": [{}]}, "mark": {"type": "text", "text": "Stoch(5,3,3) 28.0243 39.2736", "align": "left", "baseline": "middle", "font": "Liberation Sans", "fontSize": 9, "color": "#202020"},
 "encoding": {
  "x": {"datum": 0.77, "type": "quantitative", "scale": {"domain": [-0.515, 159.33], "nice": false, "zero": false}, "axis": null},
  "y": {"datum": 89, "type": "quantitative", "scale": {"domain": [0, 100], "nice": false, "zero": false}, "axis": null}}},
{"data": {"values": [{}]}, "mark": {"type": "point", "shape": "M-0.84,0A0.84,1,0,0,1,0.84,0A0.84,1,0,0,1,-0.84,0Z", "filled": false, "color": "#b5835a", "strokeWidth": 2, "opacity": 1, "size": 2809, "clip": false},
 "encoding": {
  "x": {"datum": 123.8, "type": "quantitative", "scale": {"domain": [-0.515, 159.33], "nice": false, "zero": false}, "axis": null},
  "y": {"datum": 50, "type": "quantitative", "scale": {"domain": [0, 100], "nice": false, "zero": false}, "axis": null}}},
{"data": {"values": [{}]}, "mark": {"type": "rect", "color": "#cc2222", "opacity": 0.65, "clip": false},
 "encoding": {
  "x": {"datum": 61.8, "type": "quantitative", "scale": {"domain": [-0.515, 159.33], "nice": false, "zero": false}, "axis": null},
  "x2": {"datum": 107.3},
  "y": {"datum": 11.8, "type": "quantitative", "scale": {"domain": [0, 100], "nice": false, "zero": false}, "axis": null},
  "y2": {"datum": -21.5}}},
{"data": {"values": [{}]}, "mark": {"type": "text", "text": "www.instaforex.com", "align": "center", "baseline": "middle", "font": "Liberation Sans", "fontSize": 17, "color": "#ffffff", "clip": false},
 "encoding": {
  "x": {"datum": 83.9, "type": "quantitative", "scale": {"domain": [-0.515, 159.33], "nice": false, "zero": false}, "axis": null},
  "y": {"datum": -5.4, "type": "quantitative", "scale": {"domain": [0, 100], "nice": false, "zero": false}, "axis": null}}}
]
}
]
}
